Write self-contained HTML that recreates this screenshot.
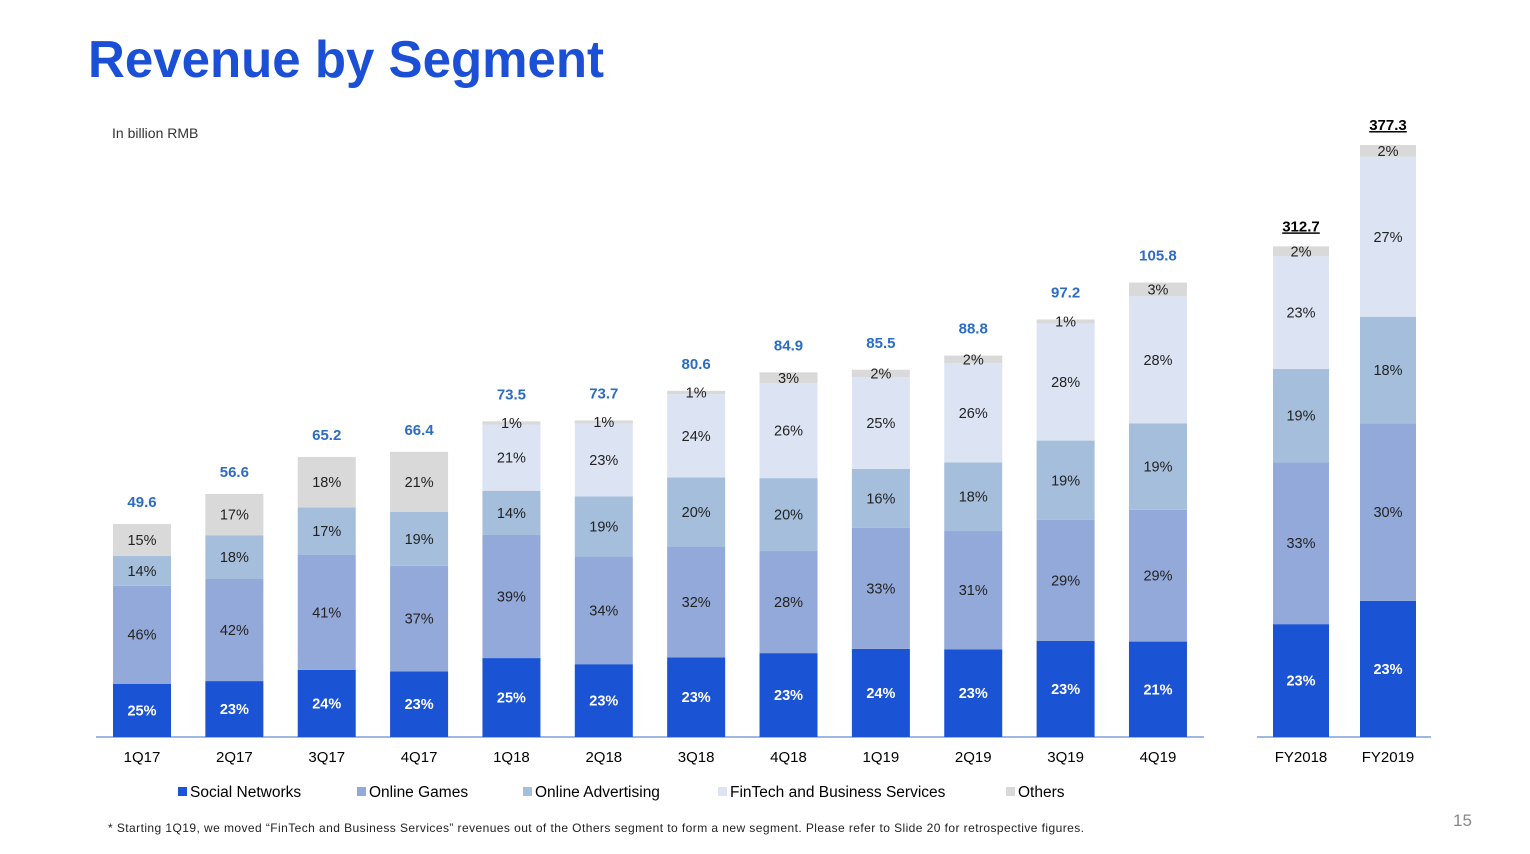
<!DOCTYPE html>
<html><head><meta charset="utf-8"><style>
body{margin:0;background:#fff;width:1530px;height:854px;overflow:hidden;font-family:"Liberation Sans",Arial,sans-serif}
svg{display:block}
</style></head><body>
<svg id="chart" width="1530" height="854" xmlns="http://www.w3.org/2000/svg" font-family="Liberation Sans, Arial, sans-serif">
<text x="88" y="77" font-size="52" font-weight="bold" fill="#1a4fd6" textLength="516" lengthAdjust="spacingAndGlyphs">Revenue by Segment</text>
<text x="112" y="138" font-size="14" fill="#333">In billion RMB</text>
<line x1="96" y1="737" x2="1204" y2="737" stroke="#7f9fdc" stroke-width="1.5"/>
<line x1="1257" y1="737" x2="1431" y2="737" stroke="#7f9fdc" stroke-width="1.5"/>
<g id="bars"></g>
<g font-size="15.5" fill="#000">
<rect x="178" y="787" width="9" height="9" fill="#1a53d4"/><text x="190" y="797">Social Networks</text>
<rect x="357" y="787" width="9" height="9" fill="#93a9d9"/><text x="369" y="797">Online Games</text>
<rect x="523" y="787" width="9" height="9" fill="#a4bedb"/><text x="535" y="797">Online Advertising</text>
<rect x="718" y="787" width="9" height="9" fill="#dce3f3"/><text x="730" y="797">FinTech and Business Services</text>
<rect x="1006" y="787" width="9" height="9" fill="#d9d9d9"/><text x="1018" y="797">Others</text>
</g>
<text x="108" y="832" font-size="12" fill="#222" textLength="976" lengthAdjust="spacing">* Starting 1Q19, we moved “FinTech and Business Services” revenues out of the Others segment to form a new segment.  Please refer to Slide 20 for retrospective figures.</text>
<text x="1453" y="826" font-size="17" fill="#888">15</text>
</svg>
<script>
const categories=["1Q17","2Q17","3Q17","4Q17","1Q18","2Q18","3Q18","4Q18","1Q19","2Q19","3Q19","4Q19"];
const totals=[49.6,56.6,65.2,66.4,73.5,73.7,80.6,84.9,85.5,88.8,97.2,105.8];
const social=[25,23,24,23,25,23,23,23,24,23,23,21];
const games=[46,42,41,37,39,34,32,28,33,31,29,29];
const advertising=[14,18,17,19,14,19,20,20,16,18,19,19];
const fintech=[0,0,0,0,21,23,24,26,25,26,28,28];
const others=[15,17,18,21,1,1,1,3,2,2,1,3];
const fyCategories=["FY2018","FY2019"];
const fyTotals=[312.7,377.3];
const fySocial=[23,23];
const fyGames=[33,30];
const fyAdvertising=[19,18];
const fyFintech=[23,27];
const fyOthers=[2,2];
const colors=["#1a53d4","#93a9d9","#a4bedb","#dce3f3","#d9d9d9"];
const segNames=["social-networks","online-games","online-advertising","fintech","others"];
const NS="http://www.w3.org/2000/svg";
const g=document.getElementById("bars");
const base=737;
function el(t,a){const e=document.createElementNS(NS,t);for(const k in a)e.setAttribute(k,a[k]);g.appendChild(e);return e;}
function drawBar(cx,w,total,pcts,scale,cat,annual){
  const H=total*scale;const sum=pcts.reduce((a,b)=>a+b,0);
  let y=base;
  pcts.forEach((p,i)=>{
    if(p<=0)return;
    const h=H*p/sum;y-=h;
    const r=el("rect",{x:cx-w/2,y:y,width:w,height:h,fill:colors[i]});
    
    
    const t=el("text",{x:cx,y:y+h/2+5,"text-anchor":"middle","font-size":14.5,fill:i===0?"#fff":"#222","font-weight":i===0?"bold":"normal"});
    t.textContent=p+"%";
    
    
  });
  const gap=annual?15:(pcts[4]<5?22:17);
  const v=el("text",{x:cx,y:base-H-gap,"text-anchor":"middle","font-size":15,"font-weight":"bold",fill:annual?"#000":"#2b6cc4","text-decoration":annual?"underline":"none"});
  v.textContent=total.toFixed(1);
  
  
  const c=el("text",{x:cx,y:762,"text-anchor":"middle","font-size":15,fill:"#000"});
  c.textContent=cat;
  
  
}
const qScale=4.295, fyScale=1.569;
categories.forEach((c,i)=>{
  drawBar(142+i*92.36,58,totals[i],[social[i],games[i],advertising[i],fintech[i],others[i]],qScale,c,false);
});
fyCategories.forEach((c,i)=>{
  drawBar(1301+i*87,56,fyTotals[i],[fySocial[i],fyGames[i],fyAdvertising[i],fyFintech[i],fyOthers[i]],fyScale,c,true);
});
</script>
</body></html>
